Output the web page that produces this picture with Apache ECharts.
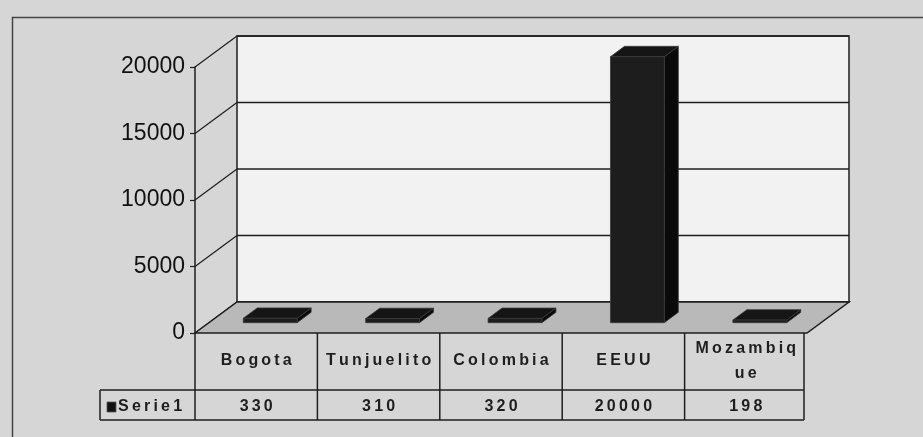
<!DOCTYPE html>
<html><head><meta charset="utf-8">
<script src="https://cdn.jsdelivr.net/npm/echarts@6/dist/echarts.min.js"></script>
<style>html,body{margin:0;padding:0;background:#d6d6d6}#c{width:923px;height:437px}</style>
</head><body><div id="c"></div>
<script>
// ---- data ----
const categories = ['Bogota', 'Tunjuelito', 'Colombia', 'EEUU', 'Mozambique'];
const values = [330, 310, 320, 20000, 198];
const seriesName = 'Serie1';
const yTicks = [0, 5000, 10000, 15000, 20000];

// ---- styling ----
const DX = 42, DY = -31;          // 3D depth vector of the floor
const INK = '#1e1e1e';
const FONT = '"Liberation Sans", Arial, sans-serif';
const TFONT = 'bold 16px ' + FONT;
const spaced = s => String(s).split('').join('\u2009');
const mctx = document.createElement('canvas').getContext('2d');
function catText(s, maxW) {
  mctx.font = TFONT;
  if (mctx.measureText(spaced(s)).width <= maxW) return spaced(s);
  // wrap by characters like the spreadsheet does
  let n = s.length;
  while (n > 1 && mctx.measureText(spaced(s.slice(0, n))).width > maxW) n--;
  return spaced(s.slice(0, n)) + '\n' + spaced(s.slice(n));
}

function renderWalls(params, api) {
  const cs = params.coordSys;
  const L = cs.x, R = cs.x + cs.width, T = cs.y, B = cs.y + cs.height;
  const ch = [];
  ch.push({ type: 'rect', shape: { x: L + DX, y: T + DY, width: cs.width, height: cs.height },
    style: { fill: '#f2f2f2', stroke: INK, lineWidth: 1.5 } });
  yTicks.forEach(t => {
    const y = api.coord([0, t])[1];
    ch.push({ type: 'line', shape: { x1: L + DX, y1: y + DY, x2: R + DX, y2: y + DY }, style: { stroke: INK, lineWidth: 1.5 } });
    ch.push({ type: 'line', shape: { x1: L, y1: y, x2: L + DX, y2: y + DY }, style: { stroke: INK, lineWidth: 1.2 } });
  });
  ch.push({ type: 'polygon', shape: { points: [[L, B], [L + DX, B + DY], [R + DX, B + DY], [R, B]] },
    style: { fill: '#b9b9b9', stroke: INK, lineWidth: 1.5 } });
  // data table frame
  const tl = L - 95, tr = R - 3;
  ch.push({ type: 'line', shape: { x1: tl, y1: B + 57, x2: tr, y2: B + 57 }, style: { stroke: INK, lineWidth: 1.5 } });
  ch.push({ type: 'line', shape: { x1: tl, y1: B + 87, x2: tr, y2: B + 87 }, style: { stroke: INK, lineWidth: 1.5 } });
  ch.push({ type: 'line', shape: { x1: tl, y1: B + 57, x2: tl, y2: B + 87 }, style: { stroke: INK, lineWidth: 1.5 } });
  ch.push({ type: 'line', shape: { x1: tr, y1: B, x2: tr, y2: B + 87 }, style: { stroke: INK, lineWidth: 1.5 } });
  ch.push({ type: 'rect', shape: { x: L - 88, y: B + 69, width: 9, height: 10 }, style: { fill: '#111', stroke: '#555', lineWidth: 0.8 } });
  ch.push({ type: 'text', style: { x: L - 77, y: B + 74, text: spaced(seriesName), fill: INK,
    font: TFONT, verticalAlign: 'middle', align: 'left' } });
  return { type: 'group', children: ch };
}

function renderBar(params, api) {
  const i = api.value(0), v = api.value(1);
  const cs = params.coordSys;
  const band = api.size([1, 0])[0];
  const base = api.coord([i, 0]);
  const top = api.coord([i, v]);
  const w = band * 0.44;
  const bx = DX / 3, by = DY / 3;
  const fx = base[0] + bx - w / 2;
  const fyB = base[1] + by, fyT = top[1] + by;
  const st = f => ({ fill: f, stroke: '#3a3a3a', lineWidth: 0.8 });
  const ch = [
    { type: 'polygon', shape: { points: [[fx + w, fyB], [fx + w + bx, fyB + by], [fx + w + bx, fyT + by], [fx + w, fyT]] }, style: st('#0a0a0a') },
    { type: 'polygon', shape: { points: [[fx, fyT], [fx + bx, fyT + by], [fx + w + bx, fyT + by], [fx + w, fyT]] }, style: st('#151515') },
    { type: 'rect', shape: { x: fx, y: fyT, width: w, height: fyB - fyT }, style: st('#1d1d1d') }
  ];
  const B = cs.y + cs.height;
  const x0 = base[0] - band / 2;
  ch.push({ type: 'line', shape: { x1: x0, y1: B, x2: x0, y2: B + 87 }, style: { stroke: INK, lineWidth: 1.5 } });
  ch.push({ type: 'text', style: { x: base[0], y: B + 28, text: catText(categories[i], band - 10), fill: INK,
    font: TFONT, align: 'center', verticalAlign: 'middle', lineHeight: 25 } });
  ch.push({ type: 'text', style: { x: base[0], y: B + 74, text: spaced(values[i]), fill: INK,
    font: TFONT, align: 'center', verticalAlign: 'middle' } });
  return { type: 'group', children: ch };
}

const chart = echarts.init(document.getElementById('c'), null, { renderer: 'canvas' });
chart.setOption({
  backgroundColor: '#d6d6d6',
  animation: false,
  grid: { left: 195, right: 116, top: 67, bottom: 104, containLabel: false },
  xAxis: { type: 'category', data: categories, axisLine: { show: false }, axisTick: { show: false }, axisLabel: { show: false } },
  yAxis: {
    type: 'value', min: 0, max: 20000, interval: 5000,
    axisLine: { show: true, lineStyle: { color: INK, width: 1.5 } },
    axisTick: { show: true, length: 5, lineStyle: { color: INK, width: 1.2 } },
    axisLabel: { fontSize: 23, fontFamily: FONT, color: '#111', margin: 10, formatter: v => String(v) },
    splitLine: { show: false }
  },
  graphic: [{ type: 'rect', left: 10, top: 15, shape: { width: 1000, height: 500 }, style: { fill: null, stroke: '#444', lineWidth: 1.5 }, z: -1 }],
  series: [
    { type: 'custom', z: 1, renderItem: renderWalls, data: [[0, 0]], silent: true },
    { type: 'custom', name: seriesName, z: 3, renderItem: renderBar, data: values.map((v, i) => [i, v]) }
  ]
});
</script></body></html>
